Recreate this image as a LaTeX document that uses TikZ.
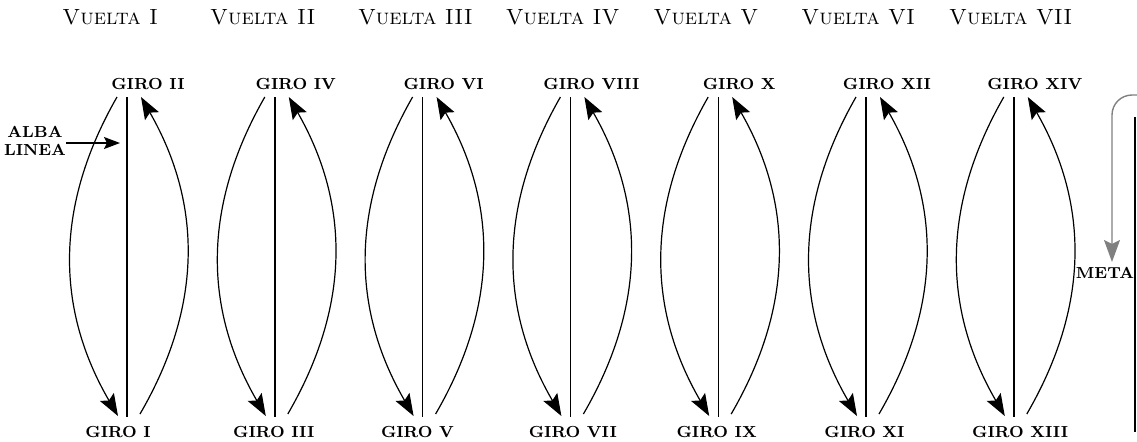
\documentclass[tikz,border=0pt]{standalone}
\usetikzlibrary{arrows.meta}

\begin{document}
\begin{tikzpicture}[x=0.5pt, y=-0.5pt]
    \tikzset{giro/.style={font=\fontsize{8}{9}\selectfont\bfseries, inner sep=0pt},
             vuelta/.style={font=\fontsize{11}{12}\selectfont\scshape, inner sep=0pt, anchor=west},
             punta/.style={-{Stealth[length=11pt, width=8pt, inset=2pt]}},
             arco/.style={line width=0.6pt, punta}}
    \useasboundingbox (0,0) rectangle (1137,441);
    % Una columna por vuelta: linea central y dos giros
    \foreach \k/\vu/\gt/\gb [evaluate=\k as \x using 127+147.8*\k] in
        {0/I/II/I, 1/II/IV/III, 2/III/VI/V, 3/IV/VIII/VII, 4/V/X/IX, 5/VI/XII/XI, 6/VII/XIV/XIII} {
        \node[vuelta] (v\k) at (\x-65,17) {Vuelta \vu};
        \node[giro] (t\k) at (\x+21,84) {GIRO \gt};
        \node[giro, anchor=west] (b\k) at (\x-42,432) {GIRO \gb};
        \coordinate (s\k) at (\x,97);
        \coordinate (e\k) at (\x,417);
        \draw[line width=0.7pt] (s\k) -- (e\k);
        \coordinate (la\k) at (\x-10,97);
        \coordinate (lb\k) at (\x-9,416);
        \coordinate (ra\k) at (\x+13,414);
        \coordinate (rb\k) at (\x+14,97);
        \draw[arco] (la\k) to[bend right=30] (lb\k);
        \draw[arco] (ra\k) to[bend right=30] (rb\k);
    }
    % linea de salida
    \node[giro, align=center] (alba) at (35,141) {ALBA\\LINEA};
    \coordinate (albafin) at (120,143);
    \draw[line width=0.7pt, -{Stealth[length=8pt, width=6pt, inset=1.5pt]}] (alba.east |- albafin) -- (albafin);
    % meta
    \node[giro] (meta) at (1105,273) {META};
    \coordinate (mtop) at (1135,117);
    \coordinate (mbot) at (1135,432);
    \draw[line width=0.7pt] (mtop) -- (mbot);
    \coordinate (ga) at (1137,95);
    \coordinate (gb) at (1112,262);
    \draw[gray, line width=0.7pt, punta, rounded corners=10pt] (ga) -- (gb |- ga) -- (gb);
\end{tikzpicture}
\end{document}
